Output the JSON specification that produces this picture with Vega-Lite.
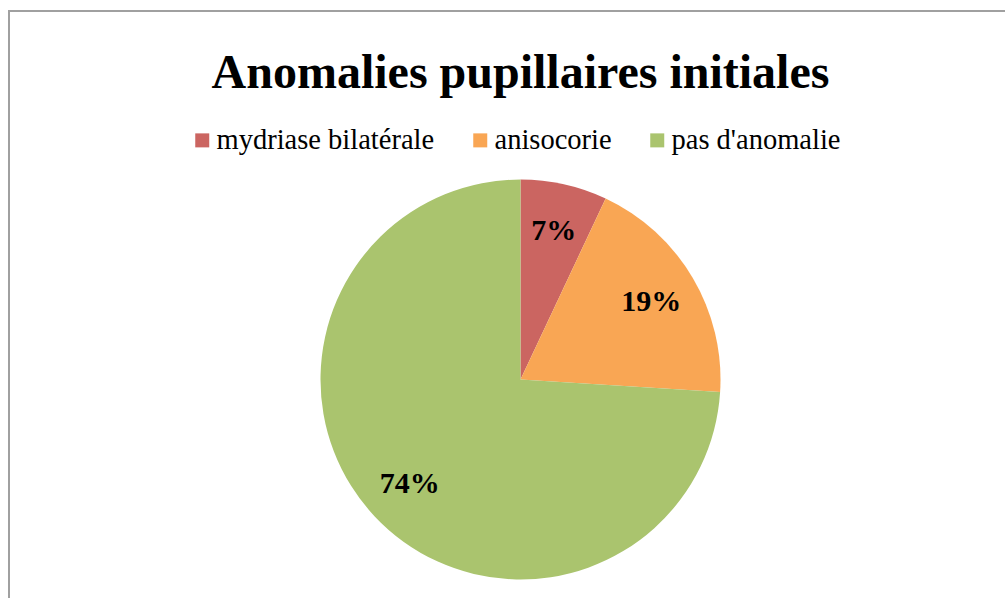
{
  "$schema": "https://vega.github.io/schema/vega-lite/v6.json",
  "autosize": {"type": "none"},
  "padding": {"left": 9, "top": 11, "right": 0, "bottom": 0},
  "width": 1023,
  "height": 737,
  "background": "white",
  "view": {"stroke": "#a0a0a0", "strokeWidth": 2},
  "title": {
    "text": "Anomalies pupillaires initiales",
    "frame": "group",
    "anchor": "middle",
    "baseline": "alphabetic",
    "offset": -125,
    "font": "Liberation Serif",
    "fontSize": 48,
    "fontWeight": "bold",
    "color": "#000000"
  },
  "data": {
    "values": [
      {"categorie": "mydriase bilatérale", "pourcentage": 7, "etiquette": "7%", "rang": 1},
      {"categorie": "anisocorie", "pourcentage": 19, "etiquette": "19%", "rang": 2},
      {"categorie": "pas d'anomalie", "pourcentage": 74, "etiquette": "74%", "rang": 3}
    ]
  },
  "encoding": {
    "theta": {"field": "pourcentage", "type": "quantitative", "stack": true},
    "order": {"field": "rang", "type": "quantitative"},
    "color": {
      "field": "categorie",
      "type": "nominal",
      "scale": {
        "domain": ["mydriase bilatérale", "anisocorie", "pas d'anomalie"],
        "range": ["#CB6561", "#F9A654", "#AAC46E"]
      },
      "legend": {
        "title": null,
        "orient": "none",
        "direction": "horizontal",
        "columns": 3,
        "legendX": 179,
        "legendY": 115,
        "padding": 0,
        "symbolType": "square",
        "symbolSize": 196,
        "symbolStrokeWidth": 0,
        "symbolOpacity": 1,
        "labelFont": "Liberation Serif",
        "labelFontSize": 28.5,
        "labelColor": "#000000",
        "labelOffset": 0,
        "labelLimit": 400,
        "columnPadding": 31
      }
    }
  },
  "layer": [
    {"mark": {"type": "arc", "outerRadius": 200}},
    {
      "mark": {
        "type": "text",
        "radius": 152,
        "font": "Liberation Serif",
        "fontSize": 30,
        "fontWeight": "bold",
        "color": "#000000"
      },
      "encoding": {
        "text": {"field": "etiquette", "type": "nominal"},
        "color": {"value": "#000000"}
      }
    }
  ]
}
